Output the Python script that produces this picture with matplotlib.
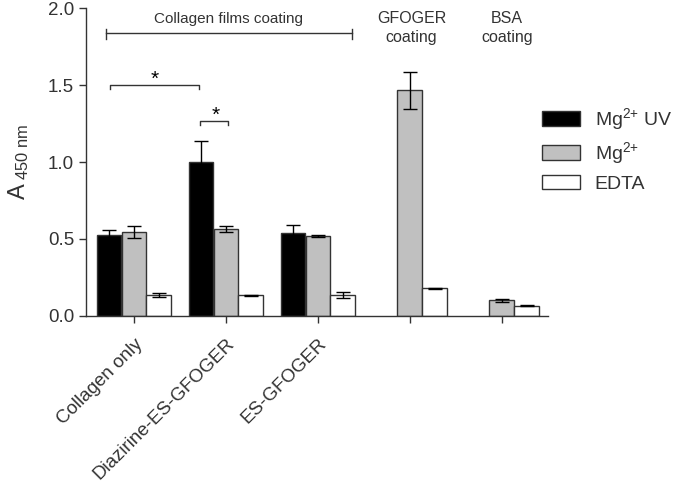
import matplotlib
matplotlib.use("Agg")
import matplotlib.pyplot as plt
import numpy as np

plt.rcParams['font.family'] = ['Liberation Sans', 'DejaVu Sans']
plt.rcParams['mathtext.fontset'] = 'custom'
plt.rcParams['mathtext.rm'] = 'Liberation Sans'
plt.rcParams['mathtext.it'] = 'Liberation Sans'

groups = ["Collagen only", "Diazirine-ES-GFOGER", "ES-GFOGER", "", ""]
series = [r"Mg$^{\mathregular{2{+}}}$ UV", r"Mg$^{\mathregular{2{+}}}$", "EDTA"]
mg_uv = [0.525, 1.00, 0.54, np.nan, np.nan]
mg_uv_err = [0.035, 0.135, 0.05, np.nan, np.nan]
mg = [0.545, 0.563, 0.518, 1.467, 0.10]
mg_err = [0.04, 0.02, 0.005, 0.12, 0.01]
edta = [0.134, 0.134, 0.135, 0.178, 0.065]
edta_err = [0.012, 0.003, 0.02, 0.003, 0.003]

fill_colors = ["#000000", "#c0c0c0", "#ffffff"]
dark = "#333333"

fig = plt.figure(figsize=(6.77, 4.83), dpi=100)
ax = fig.add_axes([0.127, 0.346, 0.682, 0.637])

x = np.arange(len(groups))
w = 0.266
offsets = [-0.27, 0.0, 0.27]
vals = [mg_uv, mg, edta]
errs = [mg_uv_err, mg_err, edta_err]
handles = []
for i in range(3):
    b = ax.bar(x + offsets[i], vals[i], w, yerr=errs[i], color=fill_colors[i],
               edgecolor=dark, linewidth=1.0, label=series[i],
               error_kw=dict(ecolor='black', elinewidth=1.0, capsize=5, capthick=1.0))
    handles.append(b)

ax.set_xlim(-0.52, 4.5)
ax.set_ylim(0, 2.0)
ax.set_yticks([0, 0.5, 1.0, 1.5, 2.0])
ax.set_yticklabels(["0.0", "0.5", "1.0", "1.5", "2.0"])
ax.set_xticks(x)
ax.set_xticklabels(groups, rotation=45, ha='right', va='top', rotation_mode='anchor',
                   fontsize=13.5, color=dark)
ax.tick_params(axis='y', labelsize=13.5, colors=dark, length=5, width=1.0)
ax.tick_params(axis='x', length=5, width=1.0, colors=dark, pad=9)
for lab in ax.get_yticklabels():
    lab.set_color(dark)
for s in ['top', 'right']:
    ax.spines[s].set_visible(False)
for s in ['left', 'bottom']:
    ax.spines[s].set_color(dark)
    ax.spines[s].set_linewidth(1.0)

ax.set_ylabel(r"A$_{\ \mathregular{450\ nm}}$", fontsize=17, color=dark, labelpad=12)

# Group annotations
lc = dark
ax.plot([-0.304, 2.37], [1.84, 1.84], color=lc, lw=1.0, clip_on=False)
ax.plot([-0.304, -0.304], [1.80, 1.865], color=lc, lw=1.0, clip_on=False)
ax.plot([2.37, 2.37], [1.80, 1.865], color=lc, lw=1.0, clip_on=False)
ax.text(1.03, 1.885, "Collagen films coating", ha='center', va='bottom', fontsize=11, color=dark)
ax.text(3.02, 1.985, "GFOGER\ncoating", ha='center', va='top', fontsize=11.5, color=dark, linespacing=1.4)
ax.text(4.06, 1.985, "BSA\ncoating", ha='center', va='top', fontsize=11.5, color=dark, linespacing=1.4)

# Significance brackets
ax.plot([-0.254, -0.254, 0.71, 0.71], [1.475, 1.50, 1.50, 1.475], color=lc, lw=1.0)
ax.text(0.23, 1.475, "*", ha='center', va='bottom', fontsize=15, color='black')
ax.plot([0.717, 0.717, 1.02, 1.02], [1.24, 1.264, 1.264, 1.24], color=lc, lw=1.0)
ax.text(0.895, 1.24, "*", ha='center', va='bottom', fontsize=15, color='black')

leg = fig.legend(handles=handles, labels=series, loc='upper left',
                 bbox_to_anchor=(0.775, 0.816), frameon=False, fontsize=14,
                 handlelength=1.95, handleheight=0.77, labelspacing=0.42,
                 handletextpad=0.75)
for t in leg.get_texts():
    t.set_color(dark)

fig.savefig("out.png", dpi=100)
